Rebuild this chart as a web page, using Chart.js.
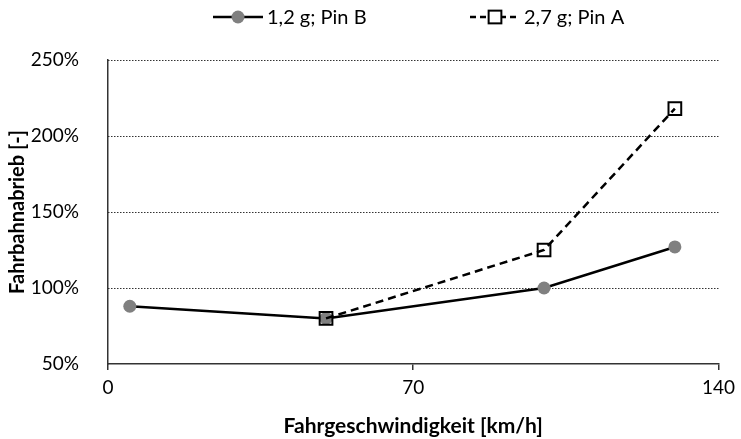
<!DOCTYPE html>
<html>
<head>
<meta charset="utf-8">
<script src="https://cdn.jsdelivr.net/npm/chart.js@4/dist/chart.umd.min.js"></script>
<style>
  html, body { margin: 0; padding: 0; background: #fff; }
  #wrap { width: 741px; height: 439px; }
</style>
</head>
<body>
<div id="wrap"><canvas id="abrieb"></canvas></div>
<script>
    'use strict'

    // Fahrgeschwindigkeit [km/h] und Fahrbahnabrieb [%]
    var speedPinB = [5, 50, 100, 130];
    var wearPinB = [88, 80, 100, 127];
    var speedPinA = [50, 100, 130];
    var wearPinA = [80, 125, 218];

    var labelPinB = '1,2 g; Pin B';
    var labelPinA = '2,7 g; Pin A';

    var xTicks = [0, 70, 140];
    var yTicks = [50, 100, 150, 200, 250];

    var FONT = 'Lato, "DejaVu Sans", sans-serif';

    function toPoints(xs, ys) {
        var pts = [];
        for (var i = 0; i < xs.length; i++) pts.push({ x: xs[i], y: ys[i] });
        return pts;
    }

    // legend drawn above the plot: line sample with its marker, then the label
    var topLegend = {
        id: 'topLegend',
        afterDraw: function (chart) {
            var ctx = chart.ctx;
            var starts = [213, 470];
            var y = 17;
            ctx.save();
            chart.data.datasets.forEach(function (ds, i) {
                var x0 = starts[i], x1 = x0 + 50, xm = x0 + 25;
                ctx.strokeStyle = ds.borderColor;
                ctx.lineWidth = ds.borderWidth;
                ctx.setLineDash(i === 1 ? [6, 4] : []);
                ctx.beginPath();
                ctx.moveTo(x0, y);
                ctx.lineTo(x1, y);
                ctx.stroke();
                ctx.setLineDash([]);
                ctx.lineWidth = ds.pointBorderWidth;
                ctx.strokeStyle = ds.pointBorderColor;
                if (ds.pointStyle === 'circle') {
                    ctx.fillStyle = ds.pointBackgroundColor;
                    ctx.beginPath();
                    ctx.arc(xm, y, ds.pointRadius, 0, Math.PI * 2);
                    ctx.fill();
                } else {
                    var s = ds.pointRadius * Math.SQRT1_2;
                    ctx.fillStyle = '#fff';
                    ctx.fillRect(xm - s, y - s, 2 * s, 2 * s);
                    ctx.strokeRect(xm - s, y - s, 2 * s, 2 * s);
                }
                ctx.fillStyle = '#000';
                ctx.font = '20px ' + FONT;
                ctx.textAlign = 'left';
                ctx.textBaseline = 'middle';
                ctx.fillText(ds.label, x1 + 4, y + 1);
            });
            ctx.restore();
        }
    };

    // dotted horizontal grid
    var dottedGrid = {
        id: 'dottedGrid',
        beforeDatasetsDraw: function (chart) {
            var c = chart.ctx, area = chart.chartArea, ys = chart.scales.y;
            c.save();
            c.strokeStyle = '#333';
            c.lineWidth = 1;
            c.setLineDash([1.5, 1.5]);
            yTicks.forEach(function (v) {
                if (v === ys.min) return;
                var py = Math.round(ys.getPixelForValue(v)) + 0.5;
                c.beginPath();
                c.moveTo(area.left, py);
                c.lineTo(area.right, py);
                c.stroke();
            });
            c.restore();
        }
    };

    var ctx = document.getElementById('abrieb').getContext('2d');
    var chart = new Chart(ctx, {
        type: 'scatter',
        data: {
            datasets: [{
                label: labelPinB,
                data: toPoints(speedPinB, wearPinB),
                showLine: true,
                borderColor: '#000',
                borderWidth: 2.5,
                pointStyle: 'circle',
                pointRadius: 6.5,
                pointBorderWidth: 0,
                pointBackgroundColor: '#808080',
                pointBorderColor: '#808080',
                order: 2
            }, {
                label: labelPinA,
                data: toPoints(speedPinA, wearPinA),
                showLine: true,
                borderColor: '#000',
                borderWidth: 2.5,
                borderDash: [8, 5],
                pointStyle: 'rect',
                pointRadius: 9,
                pointBorderWidth: 2,
                pointBackgroundColor: 'rgba(0,0,0,0)',
                pointBorderColor: '#000',
                order: 1
            }]
        },
        options: {
            responsive: true,
            maintainAspectRatio: false,
            animation: false,
            layout: { padding: { top: 60, right: 18, left: 0, bottom: 0 } },
            plugins: {
                legend: { display: false },
                tooltip: { enabled: false }
            },
            scales: {
                x: {
                    type: 'linear',
                    min: 0,
                    max: 140,
                    afterBuildTicks: function (scale) {
                        scale.ticks = xTicks.map(function (v) { return { value: v }; });
                    },
                    afterFit: function (scale) { scale.height = 75; },
                    border: { display: true, color: '#333', width: 1.5 },
                    grid: {
                        drawOnChartArea: false,
                        drawTicks: true,
                        tickLength: 6,
                        color: '#333',
                        lineWidth: 1.5
                    },
                    ticks: {
                        color: '#000',
                        font: { family: FONT, size: 19 },
                        padding: 6,
                        maxRotation: 0
                    },
                    title: {
                        display: true,
                        text: 'Fahrgeschwindigkeit [km/h]',
                        color: '#000',
                        font: { family: FONT, size: 21, weight: 'bold' },
                        padding: { top: 0, bottom: 0 }
                    }
                },
                y: {
                    min: 50,
                    max: 250,
                    afterBuildTicks: function (scale) {
                        scale.ticks = yTicks.map(function (v) { return { value: v }; });
                    },
                    afterFit: function (scale) { scale.width = 108; },
                    border: { display: true, color: '#333', width: 1.5 },
                    grid: { display: false },
                    ticks: {
                        color: '#000',
                        font: { family: FONT, size: 19 },
                        padding: 21,
                        callback: function (v) { return v + '%'; }
                    },
                    title: {
                        display: true,
                        text: 'Fahrbahnabrieb [-]',
                        color: '#000',
                        font: { family: FONT, size: 20, weight: 'bold' },
                        padding: { top: 6, bottom: 0 }
                    }
                }
            }
        },
        plugins: [topLegend, dottedGrid]
    });
</script>
</body>
</html>
